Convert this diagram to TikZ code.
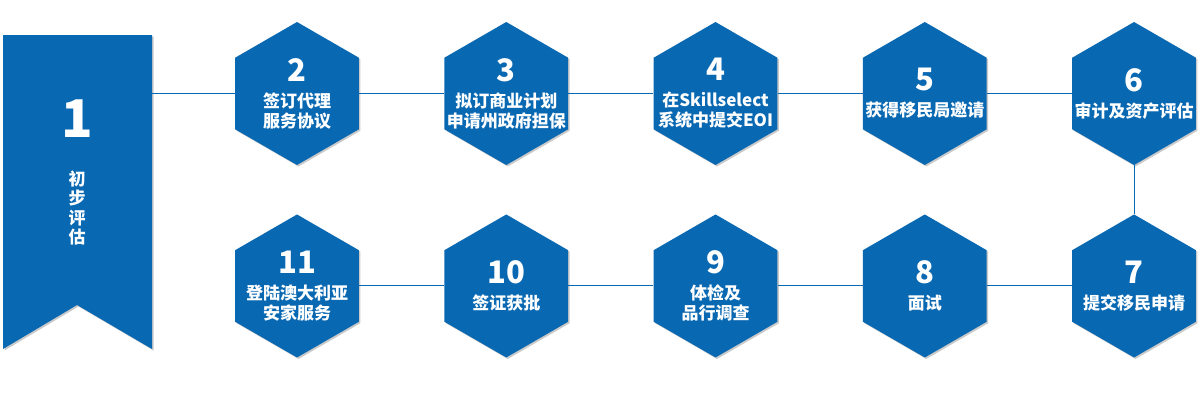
\documentclass[tikz,border=0pt]{standalone}
\usepackage{fontspec}
\setmainfont{Noto Sans CJK SC}
\usetikzlibrary{positioning,shapes.geometric,shadows}
\definecolor{stepblue}{RGB}{9,104,178}
\newcommand{\stepnum}{\fontsize{31}{31}\selectfont}
\tikzset{
  hexa/.style={regular polygon,regular polygon sides=6,shape border rotate=30,minimum size=143pt,inner sep=0pt,fill=stepblue,drop shadow={shadow xshift=1.5pt,shadow yshift=-1.5pt,opacity=.35,fill=black!60}},
  steptxt/.style={text=white,font=\fontsize{17}{20}\selectfont\bfseries,align=center},
  link/.style={draw=stepblue,line width=1pt}
}

\begin{document}
\begin{tikzpicture}[x=1pt,y=-1pt,node distance=49pt and 85pt]
  \useasboundingbox (0,0) rectangle (1200,400);
  % ribbon
  \fill[stepblue,drop shadow={shadow xshift=1.5pt,shadow yshift=-1.5pt,opacity=.35,fill=black!60}]
    (3,35) -- (152,35) -- (152,349) -- (77,305) -- (3,349) -- cycle;
  \coordinate (ribbon) at (152,93.5);
  \node[text=white,font=\fontsize{52}{52}\selectfont\bfseries] (one) at (77,119) {1};
  \node[steptxt,font=\fontsize{17}{19.5}\selectfont\bfseries] (chu) at (77,208) {初\\步\\评\\估};

  % top row
  \node[hexa,label={[steptxt]center:{\stepnum 2}\\[6pt]签订代理\\服务协议}] (s2) at (297,93.5) {};
  \node[hexa,right=of s2,label={[steptxt]center:{\stepnum 3}\\[6pt]拟订商业计划\\申请州政府担保}] (s3) {};
  \node[hexa,right=of s3,label={[steptxt]center:{\stepnum 4}\\[6pt]在Skillselect\\系统中提交EOI}] (s4) {};
  \node[hexa,right=of s4,label={[steptxt]center:{\stepnum 5}\\[6pt]获得移民局邀请}] (s5) {};
  \node[hexa,right=of s5,label={[steptxt]center:{\stepnum 6}\\[6pt]审计及资产评估}] (s6) {};

  % bottom row
  \node[hexa,below=of s6,label={[steptxt]center:{\stepnum 7}\\[6pt]提交移民申请}] (s7) {};
  \node[hexa,left=of s7,label={[steptxt]center:{\stepnum 8}\\[6pt]面试}] (s8) {};
  \node[hexa,left=of s8,label={[steptxt]center:{\stepnum 9}\\[6pt]体检及\\品行调查}] (s9) {};
  \node[hexa,left=of s9,label={[steptxt]center:{\stepnum 10}\\[6pt]签证获批}] (s10) {};
  \node[hexa,left=of s10,label={[steptxt]center:{\stepnum 11}\\[6pt]登陆澳大利亚\\安家服务}] (s11) {};

  \draw[link] (ribbon) -- (s2);
  \draw[link] (s2) -- (s3);
  \draw[link] (s3) -- (s4);
  \draw[link] (s4) -- (s5);
  \draw[link] (s5) -- (s6);
  \draw[link] (s6) -- (s7);
  \draw[link] (s7) -- (s8);
  \draw[link] (s8) -- (s9);
  \draw[link] (s9) -- (s10);
  \draw[link] (s10) -- (s11);
\end{tikzpicture}
\end{document}
